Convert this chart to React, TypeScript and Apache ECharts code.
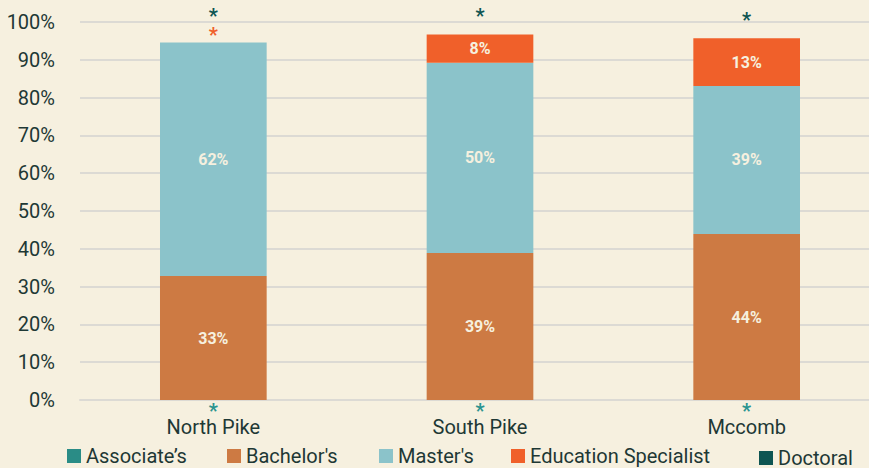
import React, { useEffect, useRef } from "react";
import * as echarts from "echarts";

const categories = ["North Pike", "South Pike", "Mccomb"];
const associates = [0, 0, 0];
const bachelors = [32.8, 38.9, 43.9];
const masters = [61.8, 50.3, 39.2];
const eduSpec = [0, 7.5, 12.6];
const doctoral = [0, 0, 0];
const yTicks = [0, 10, 20, 30, 40, 50, 60, 70, 80, 90, 100];

const FONT = "Roboto, 'Noto Sans', sans-serif";
const BG = "#F6F0DF";
const TEXT = "#1E3835";
const C_ASSOC = "#2A8C86";
const C_BACH = "#CD7A43";
const C_MAST = "#8BC3CA";
const C_EDU = "#F0602A";
const C_DOC = "#0E5552";

export default function App() {
  const ref = useRef<HTMLDivElement>(null);
  useEffect(() => {
    document.body.style.margin = "0";
    document.body.style.overflow = "hidden";
    document.body.style.background = BG;
    const chart = echarts.init(ref.current!, null, { renderer: "svg" });
    const inside = (v: number) => Math.round(v) + "%";
    const insideLabel = {
      show: true,
      position: "inside",
      color: BG,
      fontFamily: FONT,
      fontWeight: "bold",
      fontSize: 16,
      formatter: (p: any) => inside(p.value),
    };
    const star = (color: string, position: string, distance: number) => ({
      show: true,
      position,
      distance,
      color,
      fontFamily: FONT,
      fontWeight: "bold",
      fontSize: 20,
      lineHeight: 8,
      formatter: "*",
    });
    const mkLegend = (name: string, left: number, top: number) => ({
      data: [name],
      left,
      top,
      padding: 0,
      itemWidth: 14,
      itemHeight: 14,
      icon: "rect",
      itemGap: 6,
      textStyle: { fontFamily: FONT, fontSize: 20, lineHeight: 18, color: TEXT },
    });
    chart.setOption({
      animation: false,
      backgroundColor: BG,
      grid: { left: 80, top: 22, right: 20, bottom: 68 },
      legend: [
        mkLegend("Associate’s", 67, 446),
        mkLegend("Bachelor's", 227, 446),
        mkLegend("Master's", 379, 446),
        mkLegend("Education Specialist", 511, 446),
        mkLegend("Doctoral", 759, 448),
      ],
      xAxis: {
        type: "category",
        data: categories,
        axisLine: { show: true, lineStyle: { color: "#DCDAD4", width: 2 } },
        axisTick: { show: false },
        axisLabel: { fontFamily: FONT, fontSize: 20, lineHeight: 16, color: TEXT, margin: 19 },
      },
      yAxis: {
        type: "value",
        min: yTicks[0],
        max: yTicks[yTicks.length - 1],
        interval: 10,
        axisLine: { show: false },
        axisTick: { show: false },
        splitLine: { lineStyle: { color: "#DCDAD4", width: 2 } },
        axisLabel: {
          fontFamily: FONT,
          fontSize: 20,
          color: TEXT,
          margin: 25,
          formatter: "{value}%",
        },
      },
      series: [
        {
          name: "Associate’s",
          type: "bar",
          stack: "total",
          barWidth: "40%",
          itemStyle: { color: C_ASSOC },
          label: star("#2A9490", "bottom", 7),
          data: associates,
        },
        {
          name: "Bachelor's",
          type: "bar",
          stack: "total",
          itemStyle: { color: C_BACH },
          label: insideLabel,
          data: bachelors,
        },
        {
          name: "Master's",
          type: "bar",
          stack: "total",
          itemStyle: { color: C_MAST },
          label: insideLabel,
          data: masters,
        },
        {
          name: "Education Specialist",
          type: "bar",
          stack: "total",
          itemStyle: { color: C_EDU },
          label: insideLabel,
          data: eduSpec.map((v) =>
            v === 0 ? { value: v, label: star(C_EDU, "top", 3) } : v
          ),
        },
        {
          name: "Doctoral",
          type: "bar",
          stack: "total",
          itemStyle: { color: C_DOC },
          data: doctoral.map((v, i) => ({
            value: v,
            label: star(C_DOC, "top", eduSpec[i] === 0 ? 22 : 14),
          })),
        },
      ],
    });
    return () => chart.dispose();
  }, []);
  return (
    <div style={{ width: 869, height: 468, overflow: "hidden" }}>
      <div ref={ref} style={{ width: 900, height: 468 }} />
    </div>
  );
}
